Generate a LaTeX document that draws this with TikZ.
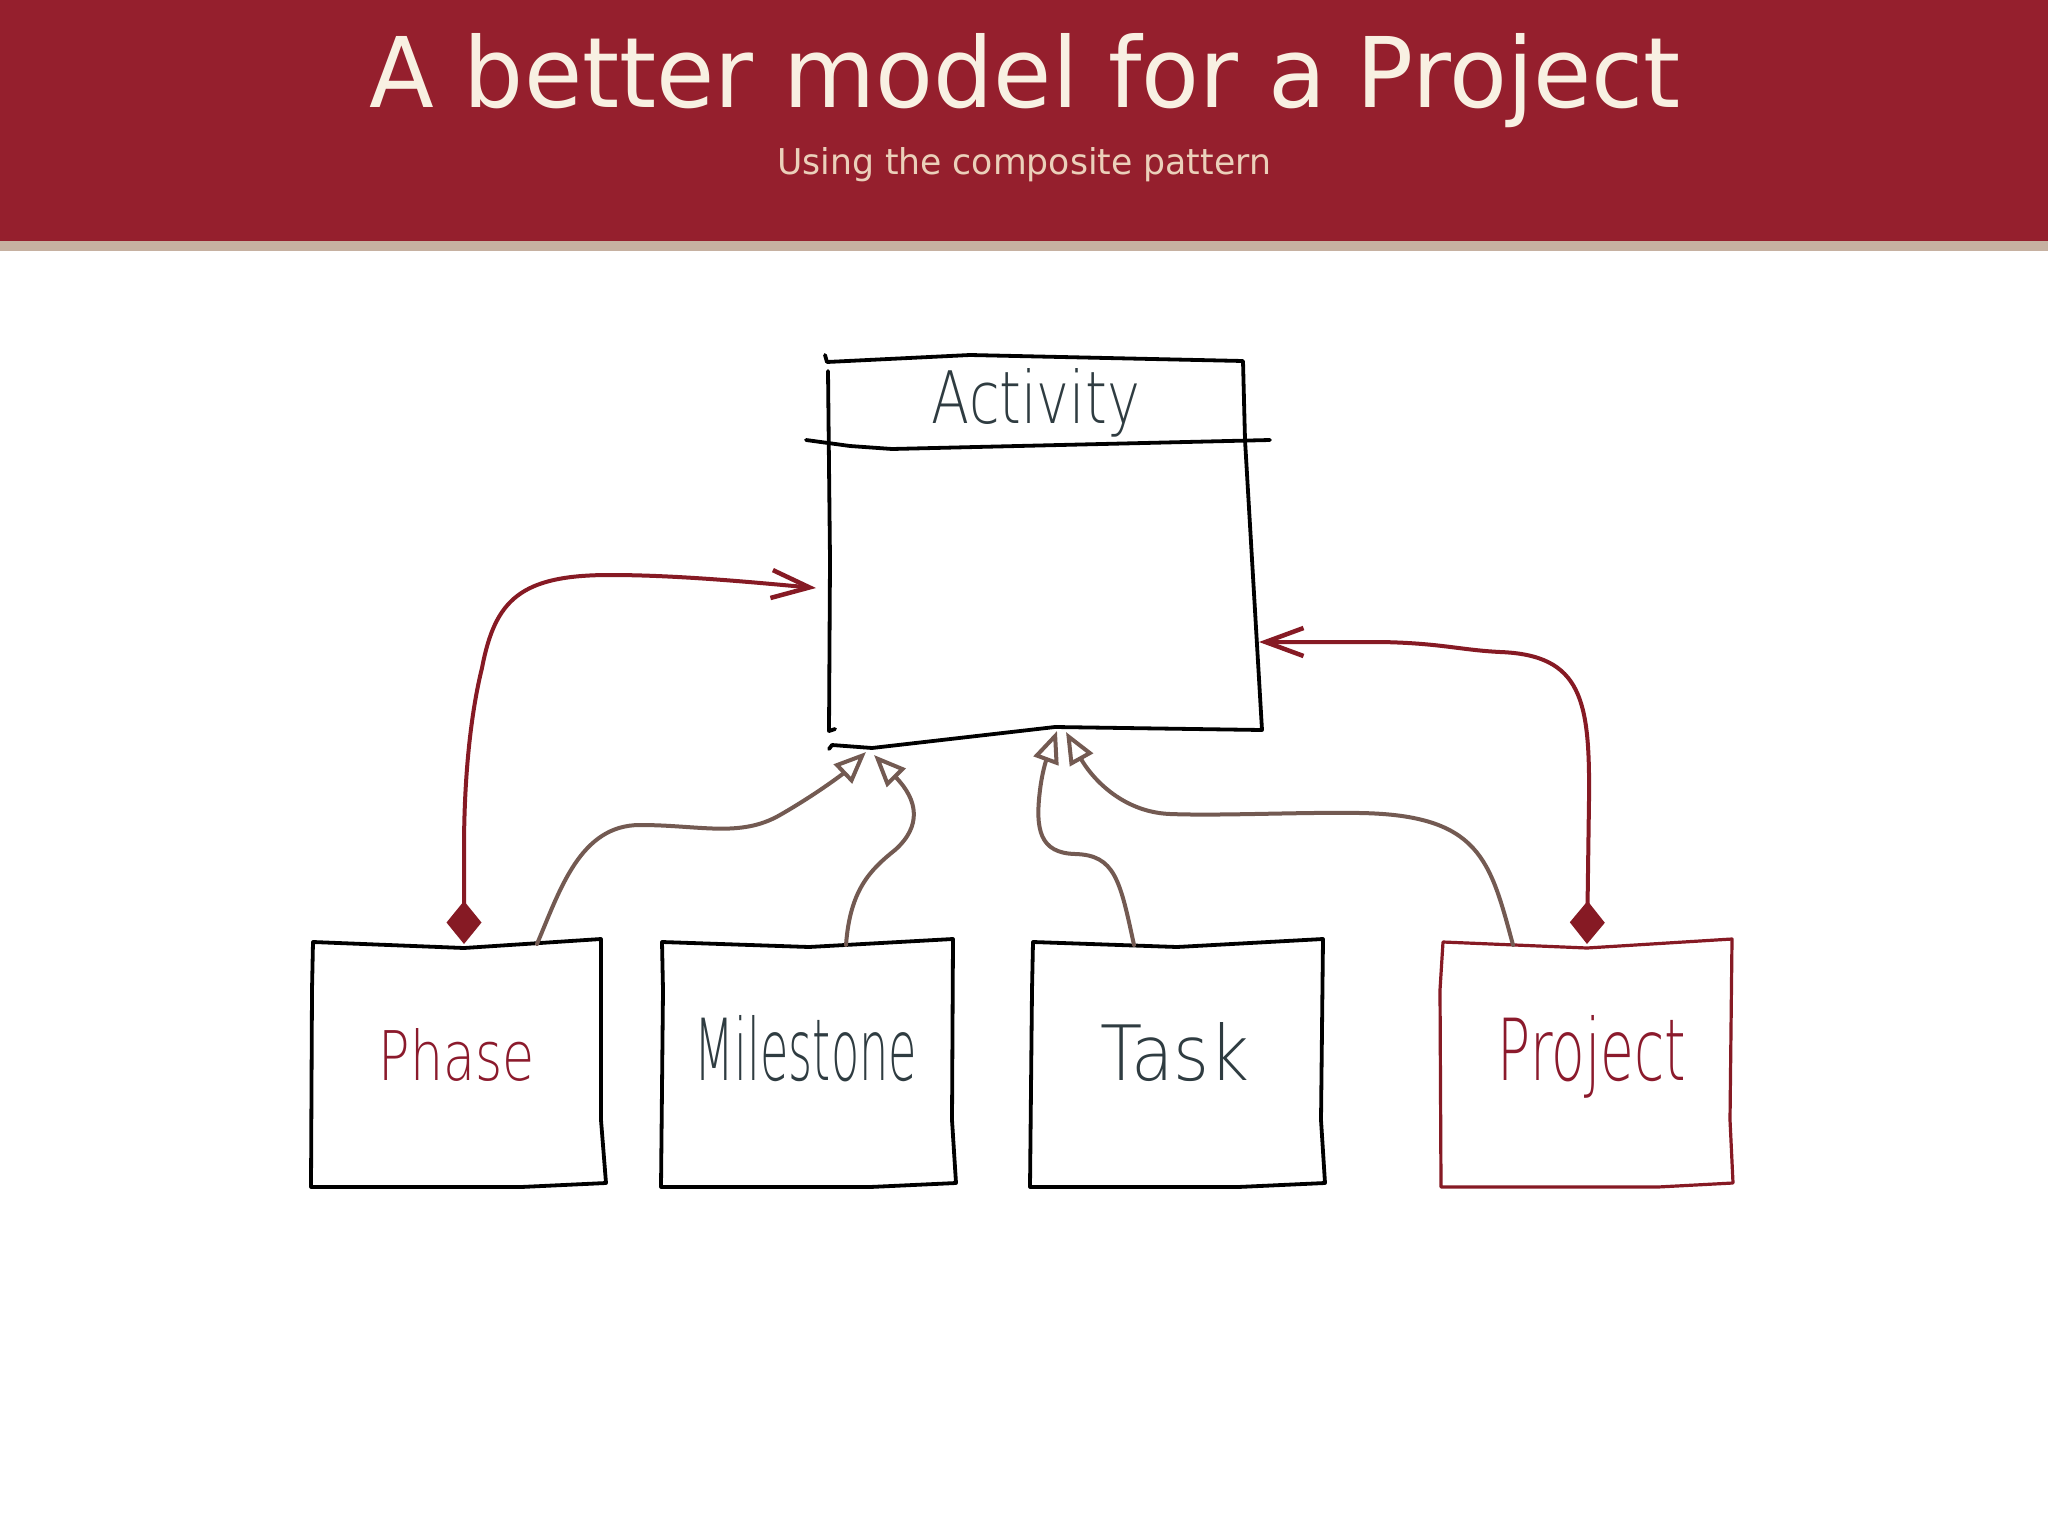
\documentclass[tikz,border=0pt]{standalone}
\usepackage{fontspec}
\usetikzlibrary{arrows.meta}
\setmainfont{DejaVu Sans}
\newfontfamily\titlefont{DejaVu Sans}
\newfontfamily\handfont{DejaVu Sans}[UprightFont=* ExtraLight]
\definecolor{hdrred}{HTML}{951F2D}
\definecolor{stripe}{HTML}{C6B1A1}
\definecolor{titlecol}{HTML}{F8F0E2}
\definecolor{subcol}{HTML}{EBD0BA}
\definecolor{aggred}{HTML}{861A24}
\definecolor{phasecol}{HTML}{8B1A2C}
\definecolor{slate}{HTML}{2F3C41}
\definecolor{genbrown}{HTML}{735A52}
\tikzset{
  boxline/.style={draw=black,line width=3.8pt,line join=round,line cap=round},
  redbox/.style={draw=aggred,line width=3.2pt,line join=round,line cap=round},
  lbl/.style={anchor=base,inner sep=0pt,outer sep=0pt},
  aggr/.style={draw=aggred,line width=4pt,line cap=round,
    {Diamond[length=43pt,width=35pt,fill=aggred]}-{Straight Barb[length=38pt,width=28pt,line width=4.5pt]}},
  gener/.style={draw=genbrown,line width=4pt,line cap=round,
    -{Triangle[open,length=32pt,width=26pt,fill=white,line width=4pt]}}
}
\begin{document}
\begin{tikzpicture}[x=1pt,y=-1pt]
\useasboundingbox (0,0) rectangle (2048,1536);
\fill[white] (0,0) rectangle (2048,1536);
% header
\fill[hdrred] (0,0) rectangle (2048,241);
\fill[stripe] (0,241) rectangle (2048,251);
\node[lbl,text=titlecol] (title) at (1025,107) {\resizebox{1311pt}{74pt}{\titlefont A better model for a Project}};
\node[lbl,text=subcol] (subtitle) at (1024,174) {\resizebox{494pt}{27pt}{\titlefont Using the composite pattern}};

% Activity box
\draw[boxline] (825,355) -- (827,362) -- (970,355) -- (1243,361) -- (1245,440) -- (1262,730) -- (1055,727) -- (872,748) -- (832,745) -- (829,749);
\draw[boxline] (828,371) -- (830,560) -- (829,731) -- (835,729);
\draw[boxline] (806,440) -- (850,446) -- (892,449) -- (1270,440);
\node[lbl,text=slate] (activity) at (1036,423) {\resizebox{208pt}{55pt}{\handfont Activity}};

% lower boxes
\draw[boxline] (313,942) -- (464,948) -- (601,939) -- (601,1120) -- (606,1183) -- (521,1187) -- (311,1187) -- (312,990) -- cycle;
\draw[boxline] (662,942) -- (809,947) -- (953,939) -- (952,1120) -- (956,1183) -- (870,1187) -- (661,1187) -- (663,990) -- cycle;
\draw[boxline] (1033,942) -- (1177,947) -- (1323,939) -- (1321,1120) -- (1325,1183) -- (1238,1187) -- (1030,1187) -- (1032,990) -- cycle;
\draw[redbox] (1443,942) -- (1587,948) -- (1732,939) -- (1730,1120) -- (1733,1183) -- (1658,1187) -- (1441,1187) -- (1440,990) -- cycle;

\node[lbl,text=phasecol] (phase) at (457,1080) {\resizebox{156pt}{52pt}{\handfont Phase}};
\node[lbl,text=slate] (milestone) at (806,1080) {\resizebox{222pt}{65pt}{\handfont Milestone}};
\node[lbl,text=slate] (task) at (1175,1080) {\resizebox{149pt}{58pt}{\handfont Task}};
\node[lbl,text=phasecol] (project) at (1592,1080) {\resizebox{188pt}{65pt}{\handfont Project}};

% connector end points
\coordinate (phaseAgg) at (464,944);
\coordinate (phaseGen) at (537,944);
\coordinate (mileGen) at (846,945);
\coordinate (taskGen) at (1134,945);
\coordinate (projGen) at (1513,945);
\coordinate (projAgg) at (1587,944);
\coordinate (actLeft) at (816,588);
\coordinate (actRight) at (1259,642);
\coordinate (actBotA) at (866,752);
\coordinate (actBotB) at (874,755);
\coordinate (actBotC) at (1057,731);
\coordinate (actBotD) at (1066,732);

% aggregation connectors
\draw[aggr] (phaseAgg) -- (464,850) .. controls (464,760) and (474,700) .. (482,668)
  .. controls (495,600) and (520,575) .. (610,575) .. controls (680,575) and (760,583) .. (actLeft);
\draw[aggr] (projAgg) -- (1589,800) .. controls (1590,700) and (1582,655) .. (1500,652)
  .. controls (1460,650) and (1440,643) .. (1380,642) -- (actRight);

% generalization connectors
\draw[gener] (phaseGen) .. controls (560,890) and (580,825) .. (640,825)
  .. controls (700,825) and (740,838) .. (780,815) .. controls (820,792) and (845,772) .. (actBotA);
\draw[gener] (mileGen) .. controls (850,890) and (870,870) .. (895,850)
  .. controls (922,826) and (918,800) .. (actBotB);
\draw[gener] (taskGen) .. controls (1120,880) and (1115,855) .. (1075,854)
  .. controls (1040,853) and (1035,830) .. (1040,790) .. controls (1043,765) and (1050,750) .. (actBotC);
\draw[gener] (projGen) .. controls (1490,860) and (1480,815) .. (1360,813)
  .. controls (1300,812) and (1220,816) .. (1170,814) .. controls (1120,812) and (1090,775) .. (actBotD);
\end{tikzpicture}
\end{document}
